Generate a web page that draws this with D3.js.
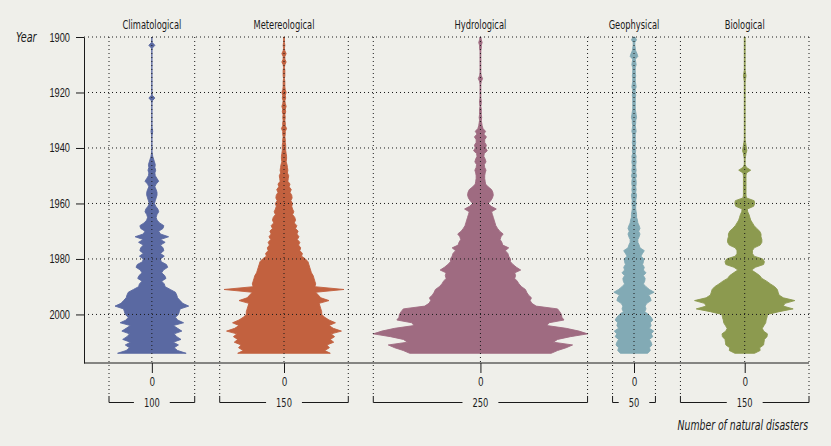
<!DOCTYPE html>
<html><head><meta charset="utf-8">
<script src="https://cdn.jsdelivr.net/npm/d3@7"></script>
<style>
html,body{margin:0;padding:0;background:#efefea;}
svg{display:block;font-family:"Liberation Sans Narrow","DejaVu Sans Condensed","DejaVu Sans",sans-serif;}
</style></head><body><svg id="chart" width="831" height="446"></svg>
<script>
const categories = ["Climatological","Metereological","Hydrological","Geophysical","Biological"];
const scaleRanges = [100,150,250,50,150];
const colors = ["#5a69a2","#c2613f","#9f6b81","#82aab5","#8c9a4f"];
const firstYear = 1900;
const yearTicks = [1900,1920,1940,1960,1980,2000];
const axisTitleY = "Year";
const axisTitleX = "Number of natural disasters";

const climatological = [
0,0,1,7,1,0,0,0,0,0,
0,0,0,0,0,0,0,0,0,0,
0,1,7,1,0,0,0,0,0,0,
0,0,0,1,2,1,0,0,0,0,
0,0,1,2,4,6,8,7,9,7,
8,12,16,10,7,10,12,12,10,8,
6,9,14,16,12,10,12,18,28,26,
16,20,39,20,31,20,26,28,20,29,
20,22,34,37,27,23,30,33,23,29,
31,43,55,58,60,66,72,86,66,64,
62,55,60,74,50,60,70,52,58,68,
50,62,52,60,80];
const metereological = [
1,1,1,2,1,2,5,2,2,5,
2,1,2,2,2,1,2,2,2,3,
5,3,4,2,3,5,3,4,2,3,
2,3,3,6,3,3,2,3,3,4,
4,4,5,6,6,5,7,8,9,8,
11,10,9,14,12,17,14,18,19,16,
20,18,20,23,20,25,27,24,30,27,
33,30,35,31,37,34,39,37,43,41,
50,56,58,60,62,64,68,70,72,74,
72,140,74,80,86,105,82,84,86,88,
88,95,105,120,105,115,134,110,118,108,
116,100,106,95,108];
const hydrological = [
1,2,4,2,2,1,1,1,1,1,
1,1,1,1,2,5,2,1,1,1,
1,1,1,2,2,1,2,2,2,3,
2,3,4,6,12,8,14,10,10,14,
12,16,9,8,11,13,9,10,13,11,
10,10,11,12,18,26,29,30,28,24,
18,25,37,26,28,30,32,34,36,40,
45,53,48,46,50,52,66,58,64,66,
70,70,76,84,94,80,82,80,86,90,
96,105,108,112,119,116,120,130,180,185,
189,190,195,160,155,200,230,250,210,180,
170,215,200,180,165];
const geophysical = [
2,6,2,2,3,4,7,9,3,4,
5,3,3,3,4,3,3,4,5,3,
3,4,3,3,3,3,3,4,5,6,
4,4,3,4,5,3,3,3,4,3,
3,4,3,5,4,5,4,4,5,4,
6,4,5,5,4,5,4,6,5,4,
5,4,4,5,6,6,8,9,12,14,
11,14,12,9,9,12,14,24,20,16,
23,22,20,24,22,28,22,26,25,22,
28,36,47,34,38,40,30,26,28,25,
34,40,44,38,40,36,46,40,44,36,
40,42,36,38,32];
const biological = [
1,1,1,1,1,1,1,1,1,1,
1,1,1,2,3,2,1,1,1,1,
1,1,1,1,1,1,1,1,1,1,
1,1,1,1,1,1,1,1,2,3,
4,5,3,2,1,1,1,4,14,4,
3,3,3,3,3,3,3,3,4,22,
23,21,6,7,10,12,14,18,22,28,
35,38,38,40,40,36,22,18,18,22,
42,46,44,25,16,26,35,40,51,60,
70,76,78,80,90,117,94,90,113,80,
53,52,50,49,45,41,44,53,52,46,
45,44,35,36,23];
const series = [climatological, metereological, hydrological, geophysical, biological];

const SX = 0.74; // horizontal condensing of the text
const ink = "#1a1a1a";
const svg = d3.select("#chart");
svg.append("rect").attr("width",831).attr("height",446).attr("fill","#efefea");

function label(x, y, str, size, anchor, italic) {
  const g = svg.append("g").attr("transform", `translate(${x},${y}) scale(${SX},1)`);
  const t = g.append("text").attr("text-anchor", anchor).attr("font-size", size + "px")
    .attr("fill", ink).text(str);
  if (italic) t.attr("font-style", "italic");
  return t;
}

const plot = {left:84, right:809, top:37, bottom:363};
const gap = 25;
const k = (plot.right - plot.left - gap*categories.length) / d3.sum(scaleRanges);

let cursor = plot.left;
const panels = categories.map((name,i) => {
  cursor += gap;
  const x0 = cursor, w = scaleRanges[i]*k;
  cursor += w;
  const xs = d3.scaleLinear().domain([-scaleRanges[i]/2, scaleRanges[i]/2]).range([x0, x0+w]);
  return {name, x0, x1:x0+w, cx:x0+w/2, xs, range:scaleRanges[i], values:series[i], color:colors[i]};
});

const y = d3.scaleLinear().domain([1900, 2017.5]).range([plot.top, plot.bottom]);

// violins
const gV = svg.append("g");
panels.forEach(p => {
  const data = p.values.map((v,i) => ({year:firstYear+i, v}));
  const area = d3.area()
    .y(d => y(d.year))
    .x0(d => p.xs(-d.v/2))
    .x1(d => p.xs(d.v/2))
    .curve(d3.curveLinear);
  gV.append("path").datum(data).attr("d", area)
    .attr("fill", p.color).attr("stroke", p.color).attr("stroke-width", 0.9);
});

// grid (dotted, drawn on top)
const gG = svg.append("g").attr("stroke",ink).attr("stroke-width",1).attr("stroke-dasharray","1,3").attr("fill","none");
yearTicks.forEach(t => {
  gG.append("line").attr("x1",plot.left).attr("x2",plot.right).attr("y1",y(t)).attr("y2",y(t));
});
panels.forEach(p => {
  [p.x0, p.x1].forEach(x => {
    gG.append("line").attr("x1",x).attr("x2",x).attr("y1",plot.top).attr("y2",396);
  });
  gG.append("line").attr("x1",p.cx).attr("x2",p.cx).attr("y1",plot.top).attr("y2",plot.bottom);
});

// y axis
const yAxis = svg.append("g").attr("transform",`translate(${plot.left},0)`)
  .call(d3.axisLeft(y).tickValues(yearTicks).tickFormat(d3.format("d")).tickSize(8).tickSizeOuter(0).tickPadding(6));
yAxis.selectAll("path,line").attr("stroke",ink);
yAxis.selectAll("text").attr("font-size","12.5px").attr("fill",ink).attr("font-family",null)
  .attr("x", -14/SX).attr("transform", `scale(${SX},1)`);

// bottom axis line
svg.append("line").attr("x1",plot.left).attr("x2",plot.right).attr("y1",plot.bottom).attr("y2",plot.bottom)
  .attr("stroke",ink).attr("stroke-width",1);

panels.forEach(p => {
  const ax = svg.append("g").attr("transform",`translate(0,${plot.bottom})`)
    .call(d3.axisBottom(p.xs).tickValues([0]).tickFormat(d3.format("d")).tickSize(10).tickSizeOuter(0).tickPadding(4));
  ax.select(".domain").remove();
  ax.selectAll("line").attr("stroke",ink);
  ax.selectAll("text").attr("font-size","12.5px").attr("fill",ink).attr("font-family",null)
    .attr("transform", `scale(${SX},1)`);

  // bracket with range label
  const lbl = label(p.cx, 406.5, p.range, 12.5, "middle", false);
  const hw = lbl.node().getComputedTextLength()*SX/2 + 10;
  svg.append("path")
    .attr("d",`M${p.x0},396V402.5H${p.cx-hw}M${p.cx+hw},402.5H${p.x1}V396`)
    .attr("fill","none").attr("stroke",ink).attr("stroke-width",1);

  // title
  label(p.cx, 28.5, p.name, 12.5, "middle", false);
});

label(16, 42, axisTitleY, 14.5, "start", true);
label(808, 429.5, axisTitleX, 14, "end", true);
</script></body></html>
